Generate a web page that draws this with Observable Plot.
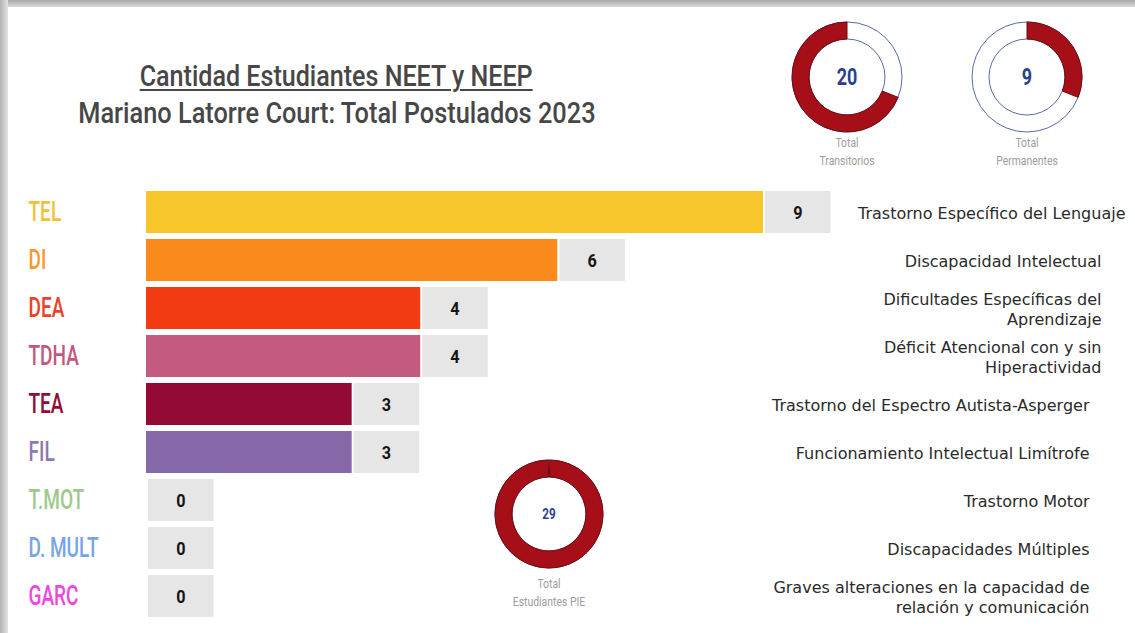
<!DOCTYPE html>
<html>
<head>
<meta charset="utf-8">
<script src="https://cdn.jsdelivr.net/npm/d3@7"></script>
<script src="https://cdn.jsdelivr.net/npm/@observablehq/plot@0.6"></script>
<style>
  body { margin: 0; background: #ffffff; }
  #card { position: relative; width: 1135px; height: 633px; overflow: hidden; background: #ffffff; }
  #topband { position: absolute; left: 0; top: 0; width: 1135px; height: 7px; background: linear-gradient(to bottom, #a9a9a9, #d9d9d9); z-index: 2; }
  #leftband { position: absolute; left: 0; top: 0; width: 8px; height: 633px; background: linear-gradient(to right, #b3b3b3, #e3e3e3); z-index: 2; }
  #titles { position: absolute; left: 0; top: 58px; width: 673px; text-align: center; color: #474747;
            font-family: Roboto, sans-serif; font-weight: 500; z-index: 3; }
  #titles div { height: 37px; }
  #titles span { display: inline-block; font-size: 29px; line-height: 37px; transform-origin: 50% 50%; white-space: nowrap; }
  #titles .t1 { text-decoration: underline; text-decoration-thickness: 2px; text-underline-offset: 3px; }
  #chart { position: absolute; left: 0; top: 0; }
</style>
</head>
<body>
<div id="card">
  <div id="topband"></div>
  <div id="leftband"></div>
  <div id="titles">
    <div><span class="t1" data-w="393">Cantidad Estudiantes NEET y NEEP</span></div>
    <div><span class="t2" data-w="517">Mariano Latorre Court: Total Postulados 2023</span></div>
  </div>
  <div id="chart"></div>
</div>
<script>
// ---- data ----
const codes = ["TEL", "DI", "DEA", "TDHA", "TEA", "FIL", "T.MOT", "D. MULT", "GARC"];
const counts = [9, 6, 4, 4, 3, 3, 0, 0, 0];
const descriptions = [
  "Trastorno Específico del Lenguaje",
  "Discapacidad Intelectual",
  "Dificultades Específicas del\nAprendizaje",
  "Déficit Atencional con y sin\nHiperactividad",
  "Trastorno del Espectro Autista-Asperger",
  "Funcionamiento Intelectual Limítrofe",
  "Trastorno Motor",
  "Discapacidades Múltiples",
  "Graves alteraciones en la capacidad de\nrelación y comunicación"
];
const barColors = ["#f6c62b", "#fb8a1c", "#f23b12", "#c35a7f", "#930b34", "#8569a8", "#9ccc8a", "#76a3e6", "#ee44e4"];
const labelColors = ["#f1c13a", "#f59a2c", "#e9432b", "#c2587e", "#8e0d36", "#8a7ab2", "#9dca8c", "#78a4e8", "#ef46e3"];

const donutNames = ["Total\nTransitorios", "Total\nPermanentes"];
const donutCounts = [20, 9];
const pieName = "Total\nEstudiantes PIE";
const pieTotal = 29;

// ---- build table ----
const rows = codes.map((code, i) => ({
  code, value: counts[i], desc: descriptions[i], bar: barColors[i], label: labelColors[i]
}));

const condensed = "Roboto, sans-serif";
const comic = "'DejaVu Sans', sans-serif";

// layout for donuts (centres, radii)
const donutLayout = [
  {cx: 847, cy: 77, r0: 38, r1: 55, fs: 23, ly: 142, lf: 13},
  {cx: 1027, cy: 77, r0: 38, r1: 55, fs: 23, ly: 142, lf: 13}
];
const pieLayout = {cx: 549, cy: 514, r0: 37, r1: 54, fs: 15, ly: 583, lf: 13};

function donuts(index, scales, values, dimensions) {
  const g = d3.create("svg:g").attr("aria-description", "donuts");
  const total = d3.sum(donutCounts);
  const tau = 2 * Math.PI;
  const arcs = [
    [ (donutCounts[1] / total) * tau, tau ],
    [ 0, (donutCounts[1] / total) * tau ]
  ];
  const drawRing = (L, a0, a1, num, name, pad) => {
    const gg = g.append("g").attr("transform", `translate(${L.cx},${L.cy})`);
    gg.append("circle").attr("r", L.r1).attr("fill", "#fff").attr("stroke", "#5a6aa6").attr("stroke-width", 1);
    gg.append("circle").attr("r", L.r0).attr("fill", "#fff").attr("stroke", "#5a6aa6").attr("stroke-width", 1);
    gg.append("path")
      .attr("d", d3.arc().innerRadius(L.r0).outerRadius(L.r1).startAngle(a0 + pad).endAngle(a1 - pad)())
      .attr("fill", "#a60f17").attr("stroke", "#700a10").attr("stroke-width", 1);
    gg.append("text").attr("class", "squeeze").attr("data-k", 0.78).attr("text-anchor", "middle").attr("dy", "0.36em")
      .attr("font-family", condensed).attr("font-weight", "bold").attr("font-size", L.fs)
      .attr("fill", "#2d3f8f").text(num);
    name.split("\n").forEach((t, k) => {
      g.append("text").attr("class", "squeeze").attr("data-k", 0.8).attr("x", L.cx).attr("y", L.ly + k * 18)
        .attr("text-anchor", "middle").attr("dy", "0.35em").attr("font-family", condensed)
        .attr("font-size", L.lf).attr("fill", "#9d9d9d").text(t);
    });
  };
  drawRing(donutLayout[0], arcs[0][0], arcs[0][1], donutCounts[0], donutNames[0], 0);
  drawRing(donutLayout[1], arcs[1][0], arcs[1][1], donutCounts[1], donutNames[1], 0);
  drawRing(pieLayout, 0, tau * pieTotal / total, pieTotal, pieName, 0.012);
  return g.node();
}

const descCommon = {y: "code", text: "desc", frameAnchor: "right", textAnchor: "end",
  fontSize: 16, fill: "#2a2a2a", fontFamily: comic, lineHeight: 1.28};

const chart = Plot.plot({
  width: 1135,
  height: 633,
  marginLeft: 146,
  marginRight: 372,
  marginTop: 189,
  marginBottom: 15,
  style: {fontFamily: condensed, background: "transparent", overflow: "visible"},
  x: {domain: [0, 9], axis: null},
  y: {domain: codes, axis: null, paddingInner: 0.13, paddingOuter: 0},
  color: {type: "identity"},
  marks: [
    Plot.barX(rows, {x: "value", y: "code", fill: "bar"}),
    Plot.rectX(rows, {x1: "value", x2: d => d.value + 1, y: "code", fill: "#e6e6e6", insetLeft: 2, insetRight: 1}),
    Plot.text(rows, {x: d => d.value + 0.5, y: "code", text: d => String(d.value), fontSize: 19,
      fontWeight: "bold", fill: "#151515", fontFamily: condensed, ariaDescription: "values"}),
    Plot.text(rows, {y: "code", text: "code", frameAnchor: "left", textAnchor: "start", dx: -118,
      fill: "label", fontSize: 28, fontWeight: 500, fontFamily: condensed, ariaDescription: "codes"}),
    Plot.text(rows.filter(d => d.code === "TEL"), {...descCommon, dx: 362}),
    Plot.text(rows.filter(d => ["DI", "DEA", "TDHA"].includes(d.code)), {...descCommon, dx: 338}),
    Plot.text(rows.filter(d => ["TEA", "FIL", "T.MOT", "D. MULT", "GARC"].includes(d.code)), {...descCommon, dx: 326}),
    donuts
  ]
});
document.getElementById("chart").appendChild(chart);

// condense text horizontally (no condensed fonts are installed)
function squeeze(el, k) {
  const w = el.getComputedTextLength();
  el.setAttribute("textLength", (w * k).toFixed(1));
  el.setAttribute("lengthAdjust", "spacingAndGlyphs");
}
chart.querySelectorAll('g[aria-description="codes"] text').forEach(t => squeeze(t, 0.68));
chart.querySelectorAll('g[aria-description="values"] text').forEach(t => squeeze(t, 0.85));
chart.querySelectorAll('text.squeeze').forEach(t => squeeze(t, +t.getAttribute("data-k")));
document.querySelectorAll("#titles span").forEach(s => {
  const w = s.getBoundingClientRect().width;
  s.style.transform = `scaleX(${(+s.dataset.w / w).toFixed(3)})`;
});
</script>
</body>
</html>
